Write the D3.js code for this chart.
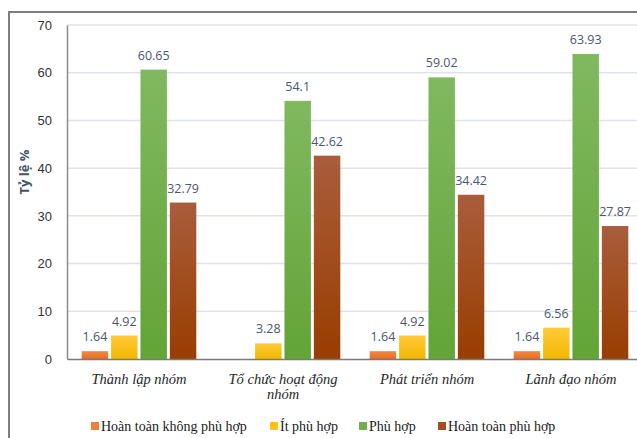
<!DOCTYPE html>
<html>
<head>
<meta charset="utf-8">
<script src="https://cdn.jsdelivr.net/npm/d3@7"></script>
<style>
  html, body { margin: 0; padding: 0; background: #fff; }
  svg { display: block; }
</style>
</head>
<body>
<svg id="chart" width="637" height="438"></svg>
<script>
// Categories, series names and values
const categories = ["Thành lập nhóm", "Tổ chức hoạt động nhóm", "Phát triển nhóm", "Lãnh đạo nhóm"];
const seriesNames = ["Hoàn toàn không phù hợp", "Ít phù hợp", "Phù hợp", "Hoàn toàn phù hợp"];
const hoanToanKhong = [1.64, null, 1.64, 1.64];
const itPhuHop = [4.92, 3.28, 4.92, 6.56];
const phuHop = [60.65, 54.1, 59.02, 63.93];
const hoanToanPhuHop = [32.79, 42.62, 34.42, 27.87];
const yTicks = [0, 10, 20, 30, 40, 50, 60, 70];

const seriesValues = [hoanToanKhong, itPhuHop, phuHop, hoanToanPhuHop];
const colorsTop = ["#f28a43", "#ffca3a", "#80b960", "#a95d3c"];
const colorsBottom = ["#e46d1e", "#f1b800", "#63a437", "#993d00"];
const legendColors = ["#f07f37", "#ffc21a", "#72ae4a", "#a64c20"];

const svg = d3.select("#chart");
const W = 637, H = 438;

// Outer frame
svg.append("rect")
  .attr("x", 9).attr("y", 12)
  .attr("width", W + 20).attr("height", H + 20)
  .attr("fill", "#fff")
  .attr("stroke", "#7f7f7f").attr("stroke-width", 2);

const defs = svg.append("defs");
seriesNames.forEach((s, i) => {
  const g = defs.append("linearGradient")
    .attr("id", "grad" + i)
    .attr("x1", 0).attr("y1", 0).attr("x2", 0).attr("y2", 1);
  g.append("stop").attr("offset", "0%").attr("stop-color", colorsTop[i]);
  g.append("stop").attr("offset", "100%").attr("stop-color", colorsBottom[i]);
});

const plotLeft = 67, plotRight = 643, plotTop = 25, plotBottom = 359;

const y = d3.scaleLinear().domain([0, 70]).range([plotBottom, plotTop]);
const x0 = d3.scaleBand().domain(categories).range([plotLeft, plotRight]).paddingInner(0).paddingOuter(0);
const x1 = d3.scaleBand().domain(seriesNames).range([0, x0.bandwidth()]).paddingInner(0.1).paddingOuter(0.5);

// Gridlines
svg.append("g")
  .selectAll("line")
  .data(yTicks.filter(d => d > 0))
  .join("line")
  .attr("x1", plotLeft).attr("x2", plotRight)
  .attr("y1", d => y(d)).attr("y2", d => y(d))
  .attr("stroke", "#dfe3ea").attr("stroke-width", 1.5);

// Y axis
const yAxis = svg.append("g")
  .attr("transform", `translate(${plotLeft},0)`)
  .call(d3.axisLeft(y).tickValues(yTicks).tickSize(0).tickPadding(15));
yAxis.select(".domain").attr("stroke", "#8c8c8c").attr("stroke-width", 1.5);
yAxis.selectAll("text")
  .attr("font-family", "'Liberation Sans', Arial, sans-serif")
  .attr("font-size", 13).attr("fill", "#333");

// Y axis title
svg.append("text")
  .attr("transform", `translate(29,${(plotTop + plotBottom) / 2 - 20}) rotate(-90)`)
  .attr("text-anchor", "middle")
  .attr("font-family", "'Open Sans', 'Liberation Sans', sans-serif")
  .attr("font-size", 13).attr("font-weight", "bold")
  .attr("fill", "#44546a")
  .text("Tỷ lệ %");

// Bars
const rows = [];
categories.forEach((c, ci) => {
  seriesNames.forEach((s, si) => {
    rows.push({ cat: c, series: s, si, value: seriesValues[si][ci] });
  });
});

const groups = svg.append("g");
groups.selectAll("rect")
  .data(rows.filter(d => d.value != null))
  .join("rect")
  .attr("x", d => x0(d.cat) + x1(d.series))
  .attr("y", d => y(d.value))
  .attr("width", x1.bandwidth())
  .attr("height", d => y(0) - y(d.value))
  .attr("fill", d => `url(#grad${d.si})`);

// Value labels
groups.selectAll("text")
  .data(rows.filter(d => d.value != null))
  .join("text")
  .attr("x", d => x0(d.cat) + x1(d.series) + x1.bandwidth() / 2)
  .attr("y", d => y(d.value) - 10)
  .attr("text-anchor", "middle")
  .attr("font-family", "'Open Sans', 'Liberation Sans', sans-serif")
  .attr("font-size", 12.5)
  .attr("fill", "#4a5870")
  .text(d => String(d.value));

// X axis
const xAxis = svg.append("g")
  .attr("transform", `translate(0,${plotBottom})`)
  .call(d3.axisBottom(x0).tickSize(0).tickFormat(""));
xAxis.select(".domain").attr("stroke", "#7a7a7a").attr("stroke-width", 1.5);

// Category labels, wrapped to fit the band
const wrapWidth = 125;
categories.forEach(c => {
  const t = svg.append("text")
    .attr("x", x0(c) + x0.bandwidth() / 2)
    .attr("y", 384)
    .attr("text-anchor", "middle")
    .attr("font-family", "'Liberation Serif', 'Times New Roman', serif")
    .attr("font-style", "italic")
    .attr("font-size", 14.5)
    .attr("fill", "#262626");
  const words = c.split(" ");
  let line = [];
  let tspan = t.append("tspan").attr("x", x0(c) + x0.bandwidth() / 2).attr("dy", 0);
  words.forEach(w => {
    line.push(w);
    tspan.text(line.join(" "));
    if (tspan.node().getComputedTextLength() > wrapWidth && line.length > 1) {
      line.pop();
      tspan.text(line.join(" "));
      line = [w];
      tspan = t.append("tspan").attr("x", x0(c) + x0.bandwidth() / 2).attr("dy", 15).text(w);
    }
  });
});

// Legend
const legendX = [91, 270, 359, 438];
const legend = svg.append("g");
seriesNames.forEach((s, i) => {
  legend.append("rect")
    .attr("x", legendX[i]).attr("y", 422)
    .attr("width", 8).attr("height", 8)
    .attr("fill", legendColors[i]);
  legend.append("text")
    .attr("x", legendX[i] + 10).attr("y", 431)
    .attr("font-family", "'Liberation Serif', 'Times New Roman', serif")
    .attr("font-size", 14)
    .attr("fill", "#1a1a1a")
    .text(s);
});
</script>
</body>
</html>
